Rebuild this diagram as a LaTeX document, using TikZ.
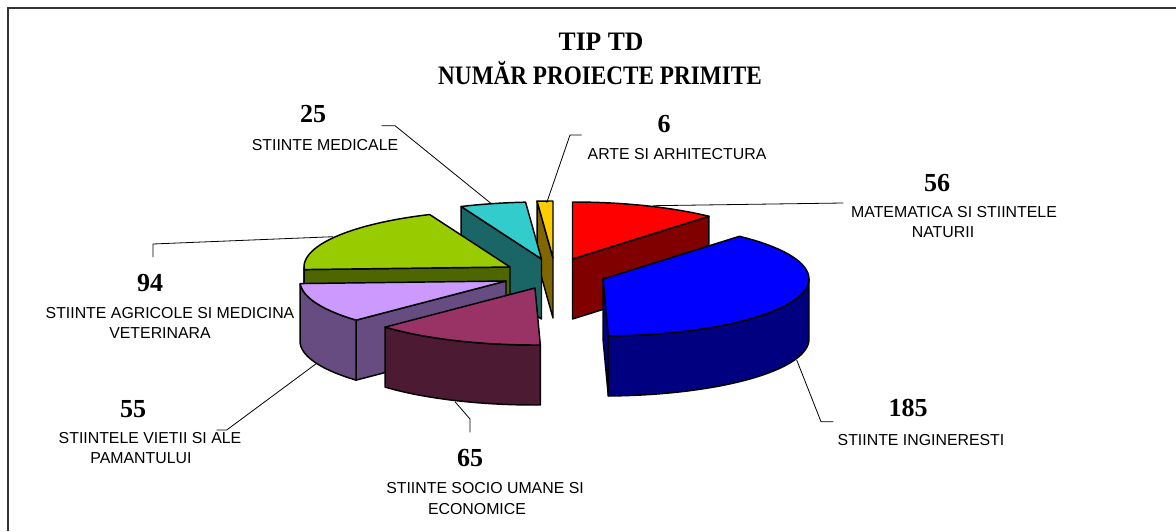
\documentclass[tikz,border=0pt]{standalone}
\usepackage{graphicx}
\usepackage{fontspec}
\setmainfont{Liberation Serif}
\setsansfont{Liberation Sans}
\definecolor{redtop}{HTML}{FF0000}\definecolor{redside}{HTML}{800000}
\definecolor{bluetop}{HTML}{0000FF}\definecolor{blueside}{HTML}{000080}
\definecolor{martop}{HTML}{993366}\definecolor{marside}{HTML}{4D1A33}
\definecolor{lavtop}{HTML}{CC99FF}\definecolor{lavside}{HTML}{664C80}
\definecolor{greentop}{HTML}{99CC00}\definecolor{greenside}{HTML}{4D6600}
\definecolor{cyantop}{HTML}{33CCCC}\definecolor{cyanside}{HTML}{1A6666}
\definecolor{goldtop}{HTML}{FFCC00}\definecolor{goldside}{HTML}{806600}
\def\RX{206}\def\RY{57}\def\DP{60}
\newcommand{\slicetop}[5]{%
  \path[fill=#5, pieedge] (#1,#2) -- plot[domain=#3:#4, samples=50, variable=\t] ({#1+\RX*cos(\t)},{#2-\RY*sin(\t)}) -- cycle;}
\newcommand{\slicewall}[5]{%
  \path[fill=#5, pieedge] plot[domain=#3:#4, samples=50, variable=\t] ({#1+\RX*cos(\t)},{#2-\RY*sin(\t)})
   -- plot[domain=#4:#3, samples=50, variable=\t] ({#1+\RX*cos(\t)},{#2-\RY*sin(\t)+\DP}) -- cycle;}
\newcommand{\sliceside}[4]{%
  \path[fill=#4, pieedge] (#1,#2) -- ({#1+\RX*cos(#3)},{#2-\RY*sin(#3)}) -- ({#1+\RX*cos(#3)},{#2-\RY*sin(#3)+\DP}) -- (#1,{#2+\DP}) -- cycle;}
\begin{document}
\begin{tikzpicture}[x=0.75pt,y=-0.75pt,
  pieedge/.style={draw=black, line width=1.1pt, line join=round},
  leader/.style={draw=black, line width=0.6pt},
  num/.style={font=\fontsize{19.5}{22}\selectfont\bfseries, inner sep=0pt},
  lab/.style={font=\sffamily\fontsize{11.9}{15}\selectfont, inner sep=0pt},
  ttl/.style={font=\fontsize{20}{24}\selectfont\bfseries, inner sep=0pt}]
\fill[white] (0,0) rectangle (1176,531);
\useasboundingbox (0,0) rectangle (1176,531);
\draw[draw=black!80, line width=1.3pt] (8,531) -- (8,8) -- (1176,8);
% title
\node[ttl] (t1) at (601,42) {\scalebox{0.96}[1]{TIP TD}};
\node[ttl] (t2) at (600,73) {\scalebox{0.87}[1]{NUMĂR PROIECTE PRIMITE}};
% pie, back to front
\sliceside{553}{258}{94.44}{goldside}
\slicetop{553}{258}{90}{94.44}{goldtop}
\sliceside{541.5}{259}{112.96}{cyanside}
\slicetop{541.5}{259}{94.44}{112.96}{cyantop}
\sliceside{572.5}{259}{48.52}{redside}
\slicetop{572.5}{259}{48.52}{90}{redtop}
\sliceside{510}{267}{182.59}{greenside}
\slicewall{510}{267}{180}{182.59}{greenside}
\slicetop{510}{267}{112.96}{182.59}{greentop}
\sliceside{603}{279}{-88.52}{blueside}
\slicewall{603}{279}{-88.52}{0}{blueside}
\slicetop{603}{279}{-88.52}{48.52}{bluetop}
\sliceside{506}{281}{-136.67}{lavside}
\slicewall{506}{281}{-177.41}{-136.67}{lavside}
\slicetop{506}{281}{-177.41}{-136.67}{lavtop}
\slicewall{535}{288}{-136.67}{-88.52}{marside}
\slicetop{535}{288}{-136.67}{-88.52}{martop}
% labels
\node[num] (n25) at (313,114) {25};
\node[lab] (l25) at (325,145) {STIINTE MEDICALE};
\node[num] (n6) at (664,124) {6};
\node[lab] (l6) at (677,154) {ARTE SI ARHITECTURA};
\node[num] (n56) at (937,183) {56};
\node[lab] (l56a) at (954,212) {MATEMATICA SI STIINTELE};
\node[lab] (l56b) at (943,232) {NATURII};
\node[num] (n94) at (150,283) {94};
\node[lab] (l94a) at (170,313) {STIINTE AGRICOLE SI MEDICINA};
\node[lab] (l94b) at (160,333) {VETERINARA};
\node[num] (n55) at (133,409) {55};
\node[lab] (l55a) at (150,438) {STIINTELE VIETII SI ALE};
\node[lab] (l55b) at (141,458) {PAMANTULUI};
\node[num] (n65) at (470,458) {65};
\node[lab] (l65a) at (485,488) {STIINTE SOCIO UMANE SI};
\node[lab] (l65b) at (477,509) {ECONOMICE};
\node[num] (n185) at (908,408) {185};
\node[lab] (l185) at (921,440) {STIINTE INGINERESTI};
% leader lines
\coordinate (a25) at (381.7,125.7); \coordinate (b25) at (395,125.7); \coordinate (c25) at (491.7,204);
\coordinate (a6) at (581.7,135); \coordinate (b6) at (570,135); \coordinate (c6) at (546.7,202.7);
\coordinate (a56) at (843.3,203); \coordinate (c56) at (653,205.7);
\coordinate (a94) at (153,257); \coordinate (b94) at (153,244); \coordinate (c94) at (333,236.7);
\coordinate (a55) at (216.7,430); \coordinate (b55) at (226.7,430); \coordinate (c55) at (316.7,363.3);
\coordinate (a65) at (470,432.3); \coordinate (b65) at (470,419); \coordinate (c65) at (455,401.7);
\coordinate (a185) at (833.3,421.7); \coordinate (b185) at (821,421.7); \coordinate (c185) at (796.7,360);
\draw[leader] (a25) -- (b25) -- (c25);
\draw[leader] (a6) -- (b6) -- (c6);
\draw[leader] (a56) -- (c56);
\draw[leader] (a94) -- (b94) -- (c94);
\draw[leader] (a55) -- (b55) -- (c55);
\draw[leader] (a65) -- (b65) -- (c65);
\draw[leader] (a185) -- (b185) -- (c185);
\end{tikzpicture}
\end{document}
